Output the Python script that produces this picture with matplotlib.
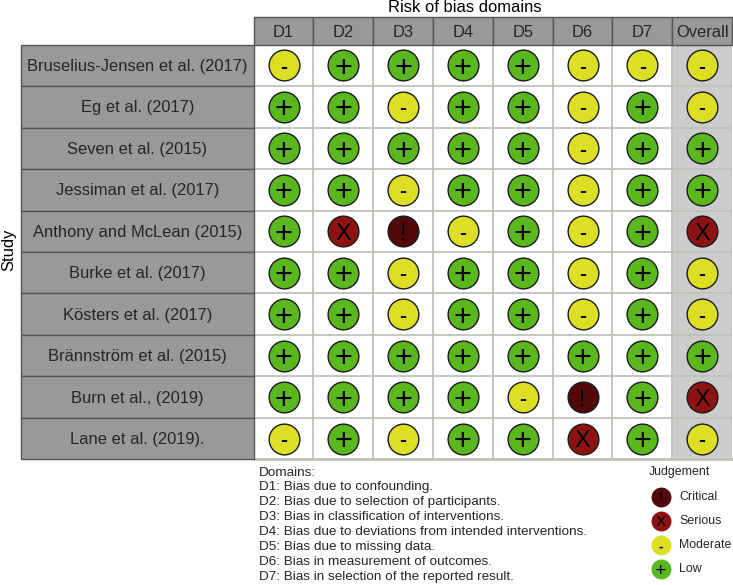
from __future__ import annotations

import matplotlib
matplotlib.use("Agg")
import matplotlib.pyplot as plt
from matplotlib.patches import Rectangle

plt.rcParams["font.family"] = ["Liberation Sans", "DejaVu Sans"]

STUDIES = [
    "Bruselius-Jensen et al. (2017)",
    "Eg et al. (2017)",
    "Seven et al. (2015)",
    "Jessiman et al. (2017)",
    "Anthony and McLean (2015)",
    "Burke et al. (2017)",
    "Kösters et al. (2017)",
    "Brännström et al. (2015)",
    "Burn et al., (2019)",
    "Lane et al. (2019).",
]
DOMAINS = ["D1", "D2", "D3", "D4", "D5", "D6", "D7", "Overall"]
ROW_JUDGEMENTS = [
    ["-", "+", "+", "+", "+", "-", "-", "-"],
    ["+", "+", "-", "+", "+", "-", "+", "-"],
    ["+", "+", "+", "+", "+", "-", "+", "+"],
    ["+", "+", "-", "+", "+", "-", "+", "+"],
    ["+", "X", "!", "-", "+", "-", "+", "X"],
    ["+", "+", "-", "+", "+", "-", "+", "-"],
    ["+", "+", "-", "+", "+", "-", "+", "-"],
    ["+", "+", "+", "+", "+", "+", "+", "+"],
    ["+", "+", "+", "+", "-", "!", "+", "X"],
    ["-", "+", "-", "+", "+", "X", "+", "-"],
]
DOMAIN_NOTES = [
    "Domains:",
    "D1: Bias due to confounding.",
    "D2: Bias due to selection of participants.",
    "D3: Bias in classification of interventions.",
    "D4: Bias due to deviations from intended interventions.",
    "D5: Bias due to missing data.",
    "D6: Bias in measurement of outcomes.",
    "D7: Bias in selection of the reported result.",
]
LEGEND_LABELS = ["Critical", "Serious", "Moderate", "Low"]
LEGEND_SYMBOLS = ["!", "X", "-", "+"]

COLOURS = {"!": "#520808", "X": "#8E1212", "-": "#DDDF25", "+": "#5AB71E"}
SYMBOL_SIZE = {"!": 17, "X": 17, "-": 15, "+": 22}
LEGEND_SYMBOL_SIZE = {"!": 11, "X": 11, "-": 10, "+": 14}
SYMBOL_WEIGHT = {"!": "normal", "X": "normal", "-": "bold", "+": "normal"}
STRIP_GREY = "#999999"
STRIP_EDGE = "#555555"
TEXT_DARK = "#262626"

FIG_W, FIG_H = 733, 585


def px_axes(fig: plt.Figure, left: float, top: float, right: float, bottom: float) -> plt.Axes:
    return fig.add_axes([left / FIG_W, 1 - bottom / FIG_H, (right - left) / FIG_W, (bottom - top) / FIG_H])


def main() -> None:
    fig = plt.figure(figsize=(FIG_W / 100, FIG_H / 100), dpi=100)

    # traffic light grid
    ax = px_axes(fig, 253.6, 44.6, 732, 459.4)
    ax.set_xlim(0.5, len(DOMAINS) + 0.5)
    ax.set_ylim(len(STUDIES) + 0.5, 0.5)
    ax.axvspan(len(DOMAINS) - 0.5, len(DOMAINS) + 0.5, color="#cccccc", lw=0, zorder=0)
    for x in range(1, len(DOMAINS)):
        ax.axvline(x + 0.5, color="#bcc4b8", lw=1.3, zorder=1)
    for y in range(1, len(STUDIES)):
        ax.axhline(y + 0.5, color="#bcc4b8", lw=1.3, zorder=1)
    ax.axhline(len(STUDIES) + 0.5, color="#bcc4b8", lw=2.0, zorder=1, clip_on=False)
    for spine in ax.spines.values():
        spine.set_visible(False)
    ax.set_xticks([])
    ax.set_yticks([])

    for row, judgements in enumerate(ROW_JUDGEMENTS, start=1):
        for col, symbol in enumerate(judgements, start=1):
            ax.scatter(col, row, s=490, color=COLOURS[symbol], edgecolors="#1a1a1a", linewidths=1.0, zorder=3)
            ax.text(col, row, symbol, ha="center", va="center_baseline", fontsize=SYMBOL_SIZE[symbol],
                    fontweight=SYMBOL_WEIGHT[symbol], color="black", zorder=4)

    # domain header strip
    top = px_axes(fig, 253.6, 17, 732, 44.6)
    top.set_xlim(0.5, len(DOMAINS) + 0.5)
    top.set_ylim(0, 1)
    top.axis("off")
    for col, domain in enumerate(DOMAINS, start=1):
        top.add_patch(Rectangle((col - 0.5, 0), 1, 1, facecolor=STRIP_GREY, edgecolor=STRIP_EDGE, lw=1.0, clip_on=False))
        top.text(col, 0.45, domain, ha="center", va="center", fontsize=11.9, color=TEXT_DARK)

    # study strip
    left = px_axes(fig, 21, 44.6, 253.6, 459.4)
    left.set_xlim(0, 1)
    left.set_ylim(len(STUDIES) + 0.5, 0.5)
    left.axis("off")
    for row, study in enumerate(STUDIES, start=1):
        left.add_patch(Rectangle((0, row - 0.5), 1, 1, facecolor=STRIP_GREY, edgecolor=STRIP_EDGE, lw=1.0, clip_on=False))
        left.text(0.5, row + 0.02, study, ha="center", va="center", fontsize=11.9, color=TEXT_DARK)

    fig.text(465 / FIG_W, 1 - 7.5 / FIG_H, "Risk of bias domains", ha="center", va="center", fontsize=11.9, color="black")
    fig.text(9 / FIG_W, 1 - 250 / FIG_H, "Study", ha="center", va="center", rotation=90, fontsize=11.9, color="black")

    for i, note in enumerate(DOMAIN_NOTES):
        fig.text(259 / FIG_W, 1 - (472.5 + i * 14.95) / FIG_H, note, ha="left", va="center", fontsize=9.7, color=TEXT_DARK)

    # judgement legend
    fig.text(649 / FIG_W, 1 - 472.5 / FIG_H, "Judgement", ha="left", va="center", fontsize=8.9, color=TEXT_DARK)
    leg = px_axes(fig, 649, 485, 733, 581)
    leg.set_xlim(649, 733)
    leg.set_ylim(len(LEGEND_LABELS) + 0.5, 0.5)
    leg.axis("off")
    for row, (label, symbol) in enumerate(zip(LEGEND_LABELS, LEGEND_SYMBOLS), start=1):
        leg.scatter(661, row, s=205, color=COLOURS[symbol], linewidths=0, clip_on=False)
        leg.text(661, row, symbol, ha="center", va="center_baseline", fontsize=LEGEND_SYMBOL_SIZE[symbol],
                 fontweight=SYMBOL_WEIGHT[symbol], color="black")
        leg.text(679, row, label, ha="left", va="center", fontsize=8.9, color=TEXT_DARK)

    fig.savefig("out.png", dpi=100)
    plt.close(fig)


if __name__ == "__main__":
    main()
